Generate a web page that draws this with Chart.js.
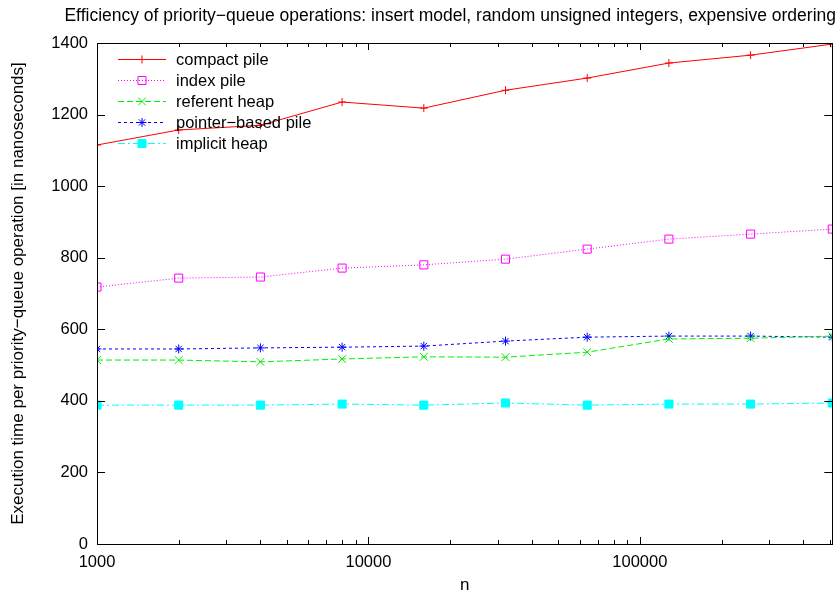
<!DOCTYPE html>
<html>
<head>
<meta charset="utf-8">
<title>Priority-queue efficiency</title>
<script src="https://cdn.jsdelivr.net/npm/chart.js@4"></script>
<style>
  html, body { margin: 0; padding: 0; background: #fff; }
  #wrap { width: 839px; height: 599px; position: relative; }
</style>
</head>
<body>
<div id="wrap"><canvas id="pqChart"></canvas></div>
<script>
// problem sizes (n) and measured times in nanoseconds per operation
const nValues = [1000, 2000, 4000, 8000, 16000, 32000, 64000, 128000, 256000, 512000];
const compactPile = [1115, 1157, 1170, 1235, 1218, 1268, 1302, 1344, 1366, 1397];
const indexPile = [718, 743, 746, 771, 780, 796, 824, 852, 866, 880];
const referentHeap = [514, 514, 509, 517, 523, 522, 536, 573, 575, 581];
const pointerBasedPile = [545, 545, 548, 550, 553, 567, 578, 581, 581, 578];
const implicitHeap = [388, 388, 388, 391, 388, 394, 388, 391, 391, 394];

const xTickValues = [1000, 10000, 100000];
const yTickValues = [0, 200, 400, 600, 800, 1000, 1200, 1400];

const FONT = 'Liberation Sans, Arial, Helvetica, sans-serif';

function series(label, values, color, pointStyle, radius, dash, filled) {
    return {
        label: label,
        data: nValues.map((n, i) => ({ x: n, y: values[i] })),
        borderColor: color,
        backgroundColor: filled ? color : 'rgba(0,0,0,0)',
        pointBorderColor: color,
        pointBackgroundColor: filled ? color : 'rgba(0,0,0,0)',
        borderWidth: 1,
        pointBorderWidth: 1,
        pointStyle: pointStyle,
        pointRadius: radius,
        borderDash: dash,
        tension: 0,
        fill: false
    };
}

const datasets = [
    series('compact pile', compactPile, '#ff0000', 'cross', 4, [], false),
    series('index pile', indexPile, '#ff00ff', 'rect', 5.7, [1, 2], false),
    series('referent heap', referentHeap, '#00f000', 'crossRot', 5.5, [6, 3], false),
    series('pointer\u2212based pile', pointerBasedPile, '#0000ff', 'star', 4.5, [3, 3], false),
    series('implicit heap', implicitHeap, '#00ffff', 'rect', 5.7, [7, 3, 2, 3], true)
];

// frame, inward ticks on all four sides, and the legend inside the plot
const framePlugin = {
    id: 'frame',
    afterDatasetsDraw(chart) {
        const { ctx, chartArea: a, scales } = chart;
        const xs = scales.x, ys = scales.y;
        ctx.save();
        ctx.strokeStyle = '#000';
        ctx.lineWidth = 1;
        ctx.setLineDash([]);
        ctx.strokeRect(Math.round(a.left) + 0.5, Math.round(a.top) + 0.5,
            Math.round(a.right - a.left), Math.round(a.bottom - a.top));

        ctx.beginPath();
        // log x ticks: 1..9 per decade
        for (let dec = xs.min; dec <= xs.max; dec *= 10) {
            for (let m = 1; m <= 9; m++) {
                const v = dec * m;
                if (v > xs.max) break;
                const px = Math.round(xs.getPixelForValue(v)) + 0.5;
                const len = m === 1 ? 7 : 4;
                ctx.moveTo(px, a.bottom);
                ctx.lineTo(px, a.bottom - len);
                ctx.moveTo(px, a.top);
                ctx.lineTo(px, a.top + len);
            }
        }
        yTickValues.forEach(v => {
            const py = Math.round(ys.getPixelForValue(v)) + 0.5;
            ctx.moveTo(a.left, py);
            ctx.lineTo(a.left + 8, py);
            ctx.moveTo(a.right, py);
            ctx.lineTo(a.right - 8, py);
        });
        ctx.stroke();

        // legend
        const lx0 = a.left + 21, lx1 = a.left + 69, tx = a.left + 79;
        ctx.font = '16.5px ' + FONT;
        ctx.textBaseline = 'middle';
        ctx.textAlign = 'left';
        chart.data.datasets.forEach((ds, i) => {
            const y = Math.round(a.top + 16 + i * 21) + 0.5;
            ctx.strokeStyle = ds.borderColor;
            ctx.lineWidth = 1;
            ctx.setLineDash(ds.borderDash);
            ctx.beginPath();
            ctx.moveTo(lx0, y);
            ctx.lineTo(lx1, y);
            ctx.stroke();
            ctx.setLineDash([]);
            ctx.fillStyle = ds.pointBackgroundColor;
            Chart.helpers.drawPoint(ctx, {
                pointStyle: ds.pointStyle,
                radius: ds.pointRadius,
                rotation: 0,
                borderWidth: 1
            }, (lx0 + lx1) / 2, y);
            ctx.fillStyle = '#000';
            ctx.fillText(ds.label, tx, y + 1);
        });
        ctx.restore();
    }
};

const ctx = document.getElementById('pqChart').getContext('2d');
new Chart(ctx, {
    type: 'line',
    data: { datasets: datasets },
    plugins: [framePlugin],
    options: {
        responsive: true,
        maintainAspectRatio: false,
        animation: false,
        events: [],
        layout: { padding: { top: 0, left: 0, right: 3, bottom: 0 } },
        plugins: {
            legend: { display: false },
            tooltip: { enabled: false },
            title: {
                display: true,
                text: 'Efficiency of priority\u2212queue operations: insert model, random unsigned integers, expensive ordering',
                align: 'end',
                color: '#000',
                font: { family: FONT, size: 17.5, weight: 'normal' },
                padding: { top: 6, bottom: 16 }
            }
        },
        scales: {
            x: {
                type: 'logarithmic',
                min: 1000,
                max: 512000,
                afterFit: s => { s.height = 55; s.paddingLeft = 0; s.paddingRight = 0; },
                grid: { display: false, drawTicks: false },
                border: { display: false },
                ticks: {
                    autoSkip: false,
                    maxRotation: 0,
                    padding: 9,
                    color: '#000',
                    font: { family: FONT, size: 16.5 },
                    callback: v => xTickValues.includes(v) ? String(v) : ''
                },
                title: {
                    display: true,
                    text: 'n',
                    color: '#000',
                    font: { family: FONT, size: 17 },
                    padding: { top: 0, bottom: 3 }
                }
            },
            y: {
                min: 0,
                max: 1400,
                afterFit: s => { s.width = 97; s.paddingTop = 0; s.paddingBottom = 0; },
                afterBuildTicks: s => { s.ticks = yTickValues.map(v => ({ value: v })); },
                grid: { display: false, drawTicks: false },
                border: { display: false },
                ticks: {
                    padding: 9,
                    color: '#000',
                    font: { family: FONT, size: 16.5 },
                    callback: v => String(v)
                },
                title: {
                    display: true,
                    text: 'Execution time per priority\u2212queue operation [in nanoseconds]',
                    color: '#000',
                    font: { family: FONT, size: 17 },
                    padding: { top: 8, bottom: 0 }
                }
            }
        }
    }
});
</script>
</body>
</html>
